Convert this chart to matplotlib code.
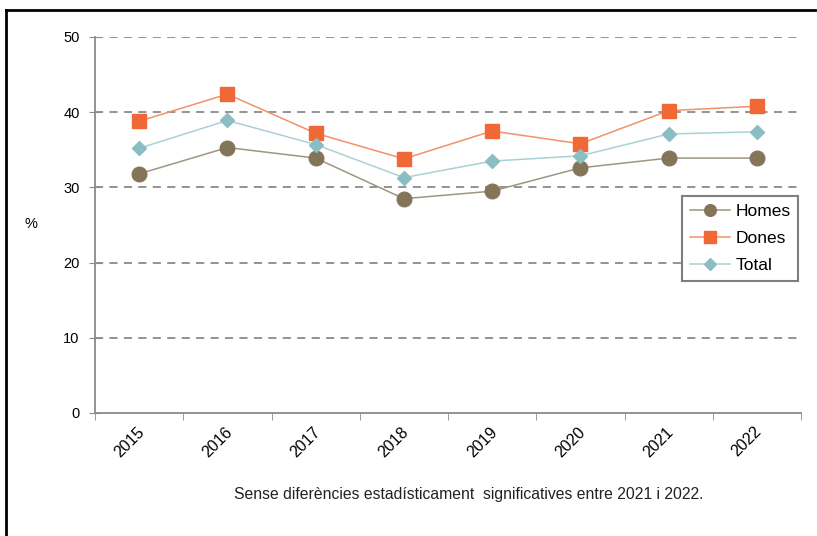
import numpy as np
import matplotlib.pyplot as plt
import matplotlib.transforms as mtransforms
from matplotlib.lines import Line2D

plt.rcParams['font.family'] = ['Liberation Sans', 'DejaVu Sans']

years = ['2015', '2016', '2017', '2018', '2019', '2020', '2021', '2022']
homes = [31.8, 35.3, 33.9, 28.5, 29.5, 32.6, 33.9, 33.9]
dones = [38.8, 42.4, 37.2, 33.8, 37.5, 35.8, 40.2, 40.8]
total = [35.2, 38.9, 35.7, 31.3, 33.5, 34.2, 37.1, 37.4]

fig = plt.figure(figsize=(8.17, 5.36), dpi=100)
ax = fig.add_axes([95 / 817, 1 - 413 / 536, 706 / 817, 376 / 536])

x = np.arange(len(years))
ax.plot(x, homes, color='#A09582', lw=1.1, marker='o', ms=10.5,
        mfc='#857558', mec='#857558', label='Homes', zorder=3)
ax.plot(x, dones, color='#F4906A', lw=1.1, marker='s', ms=10,
        mfc='#EF6836', mec='#EF6836', label='Dones', zorder=3)
ax.plot(x, total, color='#A9D2D5', lw=1.1, marker='D', ms=7.5,
        mfc='#8ABEC2', mec='#8ABEC2', label='Total', zorder=3)

ax.set_xlim(-0.5, len(years) - 0.5)
ax.set_ylim(0, 50)
ax.set_yticks([0, 10, 20, 30, 40, 50])
for v in [10, 20, 30, 40, 50]:
    ax.axhline(v, color='#8a8a8a', lw=1.3, ls=(0, (4.5, 3.5)), zorder=1)

ax.set_xticks(x)
ax.set_xticklabels(years, rotation=45, ha='center', fontsize=11.5)
ax.set_xticks(np.arange(-0.5, len(years)), minor=True)
ax.tick_params(axis='x', which='major', length=0, pad=8)
ax.tick_params(axis='x', which='minor', length=5, color='#8a8a8a', direction='out')
ax.tick_params(axis='y', length=8, direction='inout', color='#8a8a8a', labelsize=10.5, pad=7)

# shift the rotated year labels a little to the left, like the original
shift = mtransforms.ScaledTranslation(-10 / 100, 0, fig.dpi_scale_trans)
for lab in ax.get_xticklabels():
    lab.set_transform(lab.get_transform() + shift)

for s in ['top', 'right']:
    ax.spines[s].set_visible(False)
for s in ['left', 'bottom']:
    ax.spines[s].set_color('#8a8a8a')
    ax.spines[s].set_linewidth(1.3)

leg = ax.legend(loc='upper right', bbox_to_anchor=(0.996, 0.578), borderaxespad=0,
                fontsize=12.5, fancybox=False, framealpha=1, handlelength=2.3,
                borderpad=0.45, labelspacing=0.7, handletextpad=0.3, markerscale=0.8)
leg.get_frame().set_edgecolor('#7f7f7f')
leg.get_frame().set_linewidth(1.5)

fig.text(31 / 817, 1 - 224 / 536, '%', fontsize=10.5, ha='center', va='center')
fig.text(469 / 817, 1 - 495 / 536,
         'Sense diferències estadísticament  significatives entre 2021 i 2022.',
         fontsize=11.3, ha='center', va='center', color='#222222')

# frame around the chart (top and left edges visible)
fig.add_artist(Line2D([6 / 817, 6 / 817], [0, 1 - 10 / 536], color='black', lw=2))
fig.add_artist(Line2D([6 / 817, 1], [1 - 10 / 536, 1 - 10 / 536], color='black', lw=2))

fig.savefig('out.png', dpi=100)
